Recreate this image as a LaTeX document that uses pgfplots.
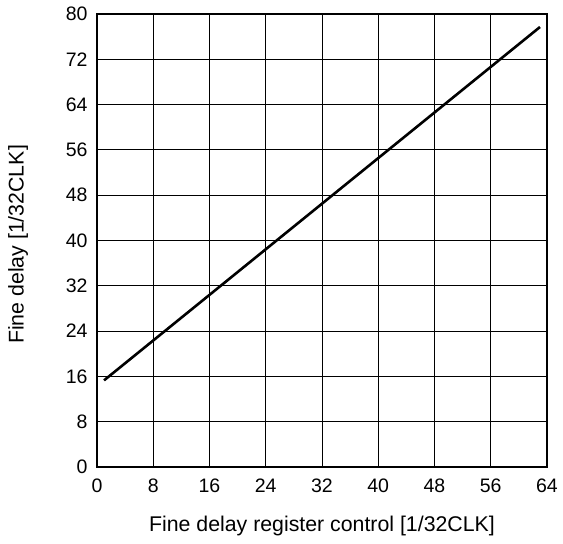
\documentclass[border=0pt]{standalone}
\usepackage{pgfplots}
\pgfplotsset{compat=1.18}
\usepackage{fontspec}
\setmainfont{Liberation Sans}
\begin{document}
\begin{tikzpicture}
\begin{axis}[
  scale only axis,
  width=450pt, height=453pt,
  xmin=0, xmax=64, ymin=0, ymax=80,
  xtick={0,8,...,64}, ytick={0,8,...,80},
  grid=major,
  major grid style={black, line width=0.9pt},
  axis line style={black, line width=2pt},
  tick style={draw=none},
  /pgf/number format/assume math mode=true,
  ticklabel style={font=\fontsize{19.5}{21}\selectfont},
  yticklabel style={xshift=-6pt},
  xticklabel style={yshift=-8.5pt},
  label style={font=\fontsize{21.3}{23}\selectfont},
  xlabel={Fine delay register control [1/32CLK]},
  ylabel={Fine delay [1/32CLK]},
  xlabel style={at={(axis description cs:0.5,0)}, anchor=base, yshift=-65pt},
  ylabel style={at={(axis description cs:0,0.5)}, anchor=center, yshift=79pt, xshift=-4pt},
]
\addplot[black, line width=2.6pt] coordinates {(1,15.3) (63,77.7)};
\end{axis}
\pgfresetboundingbox
\path ([xshift=-97pt,yshift=-77pt]current axis.south west) rectangle ([xshift=16pt,yshift=14pt]current axis.north east);
\end{tikzpicture}
\end{document}
